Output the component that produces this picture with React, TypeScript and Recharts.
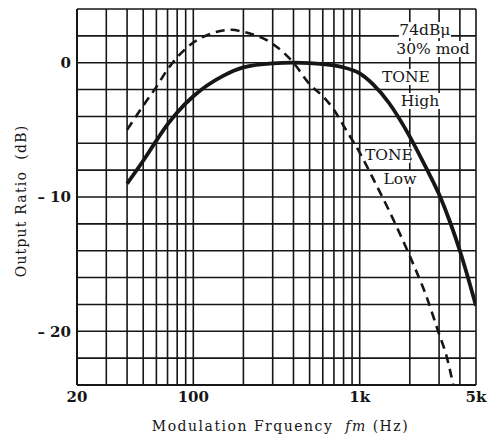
import React from 'react';
import {
  LineChart,
  Line,
  XAxis,
  YAxis,
  CartesianGrid,
  ReferenceDot,
  Label,
} from 'recharts';

// Frequency (Hz) / output ratio (dB)
const highFreq = [40, 50, 60, 70, 80, 100, 150, 200, 300, 400, 500, 600, 700, 800, 1000, 1200, 1500, 2000, 2500, 3000, 3500, 4000, 4500, 5000];
const highDb = [-9.0, -7.3, -5.8, -4.6, -3.7, -2.5, -1.0, -0.35, -0.05, 0, -0.03, -0.1, -0.2, -0.35, -0.8, -1.6, -3.0, -5.5, -7.8, -9.8, -11.9, -14.0, -16.1, -18.1];

const lowFreq = [40, 50, 60, 70, 80, 100, 130, 170, 200, 300, 400, 500, 600, 700, 800, 1000, 1200, 1500, 2000, 2500, 3000, 3300, 3650];
const lowDb = [-5.0, -3.2, -1.8, -0.5, 0.4, 1.5, 2.2, 2.45, 2.3, 1.4, 0, -1.6, -2.5, -3.5, -4.7, -6.7, -8.6, -11.0, -14.4, -17.3, -20.2, -21.7, -24];

const xTicks = [20, 30, 40, 50, 60, 70, 80, 90, 100, 200, 300, 400, 500, 600, 700, 800, 900, 1000, 2000, 3000, 4000, 5000];
const xLabels: Record<number, string> = { 20: '20', 100: '100', 1000: '1k', 5000: '5k' };
const yTicks = [-24, -22, -20, -18, -16, -14, -12, -10, -8, -6, -4, -2, 0, 2, 4];
const yLabels: Record<number, string> = { 0: '0', [-10]: '– 10', [-20]: '– 20' };

// annotation text: [freq, dB, text]
const notes: [number, number, string][] = [
  [2465, 2.43, '74dBμ'],
  [2757, 1.02, '30% mod'],
  [1897, -1.06, 'TONE'],
  [2303, -2.85, 'High'],
  [1499, -6.87, 'TONE'],
  [1746, -8.66, 'Low'],
];

const highData = highFreq.map((f, i) => ({ f, v: highDb[i] }));
const lowData = lowFreq.map((f, i) => ({ f, v: lowDb[i] }));

const FONT = '"DejaVu Serif", serif';
const INK = '#161616';

const NoteShape = (text: string) => (props: any) => {
  const { cx, cy } = props;
  const w = text.length * 9.6 + 4;
  return (
    <g>
      <rect x={cx - w / 2} y={cy - 8} width={w} height={16} fill="#fff" />
      <text x={cx} y={cy} textAnchor="middle" dominantBaseline="central" fontFamily={FONT} fontSize={15.5} fill={INK}>
        {text}
      </text>
    </g>
  );
};

export default function App() {
  return (
    <div style={{ position: 'absolute', left: 0, top: 0, background: '#fff' }}>
      <LineChart width={488} height={436} margin={{ top: 9, right: 12, bottom: 0, left: 0 }}>
        <CartesianGrid stroke={INK} strokeWidth={1.6} />
        <XAxis
          dataKey="f"
          type="number"
          scale="log"
          domain={[20, 5000]}
          ticks={xTicks}
          interval={0}
          allowDataOverflow
          height={51}
          tickLine={false}
          tickSize={0}
          tickMargin={6}
          axisLine={{ stroke: INK, strokeWidth: 2 }}
          tickFormatter={(v: number) => xLabels[v] ?? ''}
          tick={{ fill: INK, fontFamily: FONT, fontSize: 15, fontWeight: 'bold' }}
        >
          <Label
            content={(p: any) => {
              const vb = p.viewBox;
              return (
                <text x={vb.x + vb.width / 2 + 4} y={vb.y + 46} textAnchor="middle" fontFamily={FONT} fontSize={14} letterSpacing={1.5} fill={INK} style={{ whiteSpace: 'pre' }}>
                  Modulation Frquency  <tspan fontStyle="italic">fm</tspan> (Hz)
                </text>
              );
            }}
          />
        </XAxis>
        <YAxis
          type="number"
          domain={[-24, 4]}
          ticks={yTicks}
          interval={0}
          width={77}
          tickLine={false}
          tickSize={0}
          tickMargin={6}
          axisLine={{ stroke: INK, strokeWidth: 2 }}
          tickFormatter={(v: number) => yLabels[v] ?? ''}
          tick={{ fill: INK, fontFamily: FONT, fontSize: 15, fontWeight: 'bold' }}
        >
          <Label
            content={(p: any) => {
              const vb = p.viewBox;
              const cy = vb.y + vb.height / 2 + 4;
              return (
                <text x={21} y={cy} transform={`rotate(-90 21 ${cy})`} textAnchor="middle" dominantBaseline="central" fontFamily={FONT} fontSize={14} letterSpacing={1.2} fill={INK} style={{ whiteSpace: 'pre' }}>
                  Output Ratio  (dB)
                </text>
              );
            }}
          />
        </YAxis>
        <Line data={lowData} dataKey="v" type="monotone" stroke={INK} strokeWidth={2.6} strokeDasharray="9 6" dot={false} isAnimationActive={false} />
        <Line data={highData} dataKey="v" type="monotone" stroke={INK} strokeWidth={3.8} dot={false} isAnimationActive={false} />
        {notes.map(([f, d, t], i) => (
          <ReferenceDot key={i} x={f} y={d} r={0} shape={NoteShape(t)} />
        ))}
      </LineChart>
    </div>
  );
}
